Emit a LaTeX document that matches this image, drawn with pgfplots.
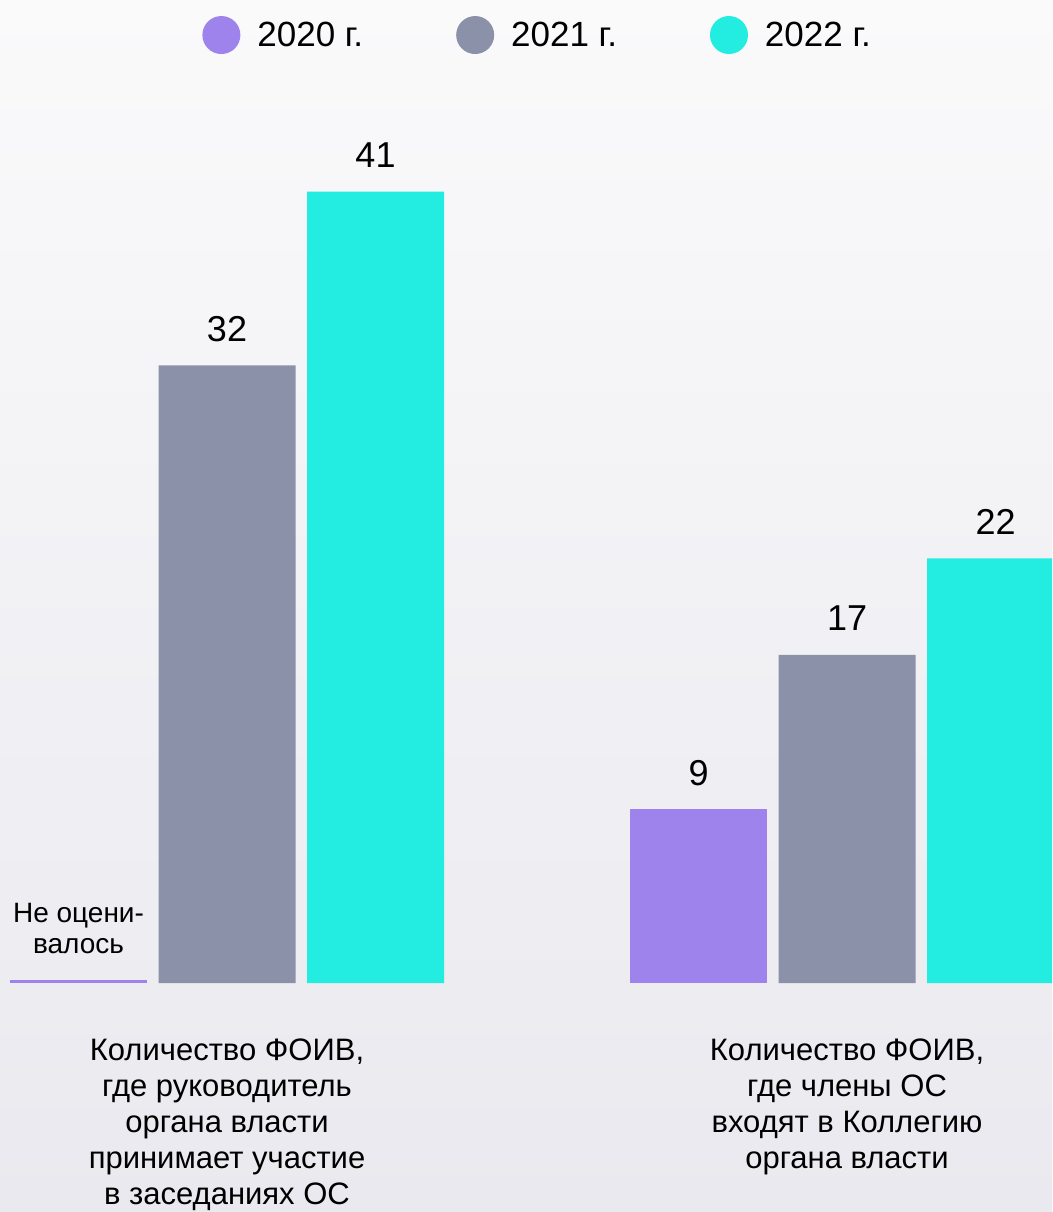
\documentclass[border=0pt]{standalone}
\usepackage{pgfplots}
\pgfplotsset{compat=1.18}
\usepackage{fontspec}
\setmainfont{Liberation Sans}

\definecolor{c2020}{RGB}{157,131,235}
\definecolor{c2021}{RGB}{140,145,170}
\definecolor{c2022}{RGB}{35,237,224}
\definecolor{bgtop}{RGB}{250,250,251}
\definecolor{bgbot}{RGB}{233,233,239}

\begin{document}
\begin{tikzpicture}
\useasboundingbox (0,0) rectangle (1052pt,1212pt);
\shade[top color=bgtop, bottom color=bgbot] (0,0) rectangle (1052pt,1212pt);
\begin{axis}[
  at={(0pt,229pt)}, anchor=south west,
  scale only axis, width=1052pt, height=945.7pt,
  xmin=-0.36613, xmax=1.33065, ymin=0, ymax=49,
  ybar, bar width=137pt,
  axis line style={draw=none}, tick style={draw=none},
  major tick length=0pt,
  ytick=\empty,
  xtick={0,1},
  xticklabels={{Количество ФОИВ,\\где руководитель\\органа власти\\принимает участие\\в заседаниях ОС},
               {Количество ФОИВ,\\где члены ОС\\входят в Коллегию\\органа власти}},
  xticklabel style={align=center, anchor=north, inner sep=0pt, yshift=-56pt,
    font=\fontsize{31}{36}\selectfont},
  /pgf/number format/assume math mode=true,
  nodes near coords,
  nodes near coords style={font=\fontsize{36}{40}\selectfont, inner sep=0pt, yshift=24pt, anchor=base, black},
  legend columns=3,
  legend style={draw=none, fill=none, at={(0.511,1.0024)}, anchor=center,
    font=\fontsize{35}{38}\selectfont, inner sep=0pt,
    /tikz/every odd column/.append style={column sep=15pt},
    /tikz/every even column/.append style={column sep=91pt}},
]
\addplot[fill=c2020, draw=none, bar shift=-148.5pt,
  legend image code/.code={\fill[c2020] (0pt,0pt) circle (19pt);}]
  coordinates {(1,9)};
\addlegendentry{2020 г.}
\addplot[fill=c2021, draw=none, bar shift=0pt,
  legend image code/.code={\fill[c2021] (0pt,0pt) circle (19pt);}]
  coordinates {(0,32) (1,17)};
\addlegendentry{2021 г.}
\addplot[fill=c2022, draw=none, bar shift=148.5pt,
  legend image code/.code={\fill[c2022] (0pt,0pt) circle (19pt);}]
  coordinates {(0,41) (1,22)};
\addlegendentry{2022 г.}
% 2020 for the first group was not assessed: a thin line with a note
\addplot[fill=c2020, draw=none, bar shift=-148.5pt, forget plot,
  nodes near coords={Не оцени-\\валось},
  nodes near coords style={font=\fontsize{28}{31}\selectfont, align=center, yshift=2pt, anchor=base}]
  coordinates {(0,0.16)};
\end{axis}
\end{tikzpicture}
\end{document}
